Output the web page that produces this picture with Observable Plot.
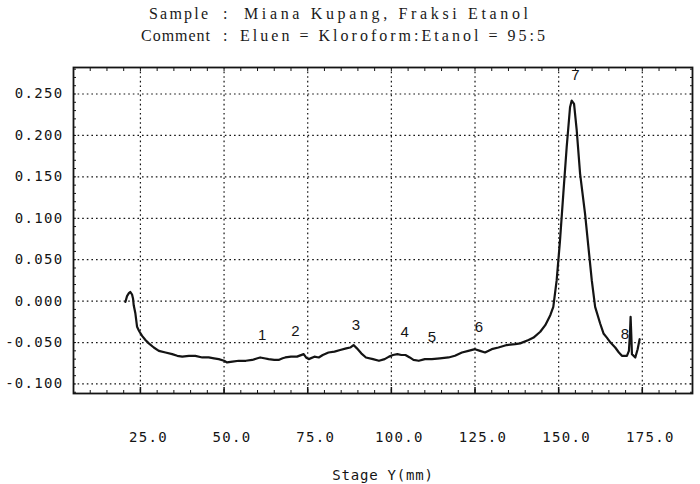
<!DOCTYPE html>
<html>
<head>
<meta charset="utf-8">
<script src="https://cdn.jsdelivr.net/npm/d3@7"></script>
<script src="https://cdn.jsdelivr.net/npm/@observablehq/plot@0.6"></script>
<style>
  html, body { margin: 0; padding: 0; background: #fff; }
  body { width: 700px; height: 484px; overflow: hidden; }
  #title { position: relative; height: 52px; width: 700px; font-family: "Liberation Serif", serif; font-size: 16px; color: #1a1a1a; }
  #title span { position: absolute; white-space: pre; line-height: 22px; }
  #chart svg { display: block; }
  #chart g[aria-label="x-axis tick label"] text,
  #chart g[aria-label="y-axis tick label"] text { letter-spacing: 1.3px; }
  #chart g[aria-label="x-axis label"] text { letter-spacing: 0.8px; }
</style>
</head>
<body>
<div id="title"></div>
<div id="chart"></div>
<script>
// ---- data ----
const titleLabels = ["Sample", "Comment"];
const titleValues = ["Miana Kupang, Fraksi Etanol", "Eluen = Kloroform:Etanol = 95:5"];

const stageY = [20.5, 21.0, 21.6, 22.0, 22.5, 22.8, 23.0, 23.5, 24.0, 24.6, 25.5, 26.5, 27.5, 29.0, 30.5, 32.5, 34.5, 36.0, 37.5, 39.5,
  41.4, 43.5, 45.4, 47.0, 48.4, 50.0, 50.9, 52.5, 54.4, 56.5, 58.4, 60.0, 60.8, 62.0, 63.3, 65.0, 66.3, 67.5, 68.3, 70.0,
  71.8, 73.8, 74.5, 75.3, 77.0, 78.3, 79.5, 81.2, 83.0, 84.7, 86.5, 87.7, 88.7, 89.7, 91.0, 92.4, 94.5, 96.3, 98.0, 99.3,
  100.5, 101.8, 103.0, 104.2, 105.5, 106.6, 108.2, 110.0, 112.1, 114.5, 117.1, 119.0, 121.1, 123.0, 125.0, 126.5, 128.0, 130.0, 132.0, 134.5,
  137.0, 138.5, 141.0, 142.5, 144.5, 146.0, 147.5, 148.4, 149.4, 150.4, 151.4, 152.4, 153.4, 153.9, 154.6, 155.4, 156.4, 157.9, 158.9, 159.9,
  160.9, 162.4, 163.4, 164.4, 165.5, 166.9, 168.0, 168.9, 170.4, 171.0, 171.3, 171.5, 171.7, 171.9, 172.9, 173.6, 174.2];
const signal = [-0.001, 0.006, 0.010, 0.011, 0.008, 0.003, -0.005, -0.015, -0.031, -0.036, -0.042, -0.047, -0.051, -0.056, -0.060, -0.062, -0.064, -0.066, -0.067, -0.066,
  -0.066, -0.068, -0.068, -0.069, -0.070, -0.072, -0.074, -0.073, -0.072, -0.072, -0.071, -0.069, -0.068, -0.069, -0.070, -0.071, -0.071, -0.069, -0.068, -0.067,
  -0.067, -0.064, -0.068, -0.070, -0.067, -0.068, -0.065, -0.062, -0.061, -0.059, -0.057, -0.056, -0.053, -0.057, -0.063, -0.068, -0.070, -0.072, -0.070, -0.067,
  -0.065, -0.064, -0.065, -0.065, -0.068, -0.071, -0.072, -0.070, -0.070, -0.069, -0.068, -0.066, -0.062, -0.060, -0.058, -0.060, -0.062, -0.058, -0.056, -0.053,
  -0.052, -0.051, -0.047, -0.044, -0.037, -0.029, -0.017, -0.007, 0.025, 0.073, 0.130, 0.186, 0.234, 0.242, 0.238, 0.206, 0.154, 0.105, 0.065, 0.025,
  -0.007, -0.027, -0.039, -0.044, -0.050, -0.056, -0.062, -0.066, -0.066, -0.060, -0.040, -0.019, -0.040, -0.064, -0.068, -0.058, -0.046];

const peakLabels = ["1", "2", "3", "4", "5", "6", "7", "8"];
const peakX = [61.4, 71.3, 89.4, 104.0, 112.1, 126.2, 155.0, 169.8];
const peakY = [-0.0415, -0.0362, -0.0294, -0.0375, -0.0435, -0.0314, 0.2730, -0.0394];

const xTicks = [25, 50, 75, 100, 125, 150, 175];
const yTicks = [-0.1, -0.05, 0, 0.05, 0.1, 0.15, 0.2, 0.25];
const xMinorTicks = d3.range(1, 38).map(i => i * 5);
const yMinorTicks = d3.range(-11, 29).map(i => i / 100);

// ---- title (fitted to the reference widths) ----
const title = document.getElementById("title");
function place(text, left, right, top) {
  const s = document.createElement("span");
  s.textContent = text;
  s.style.left = left + "px";
  s.style.top = top + "px";
  title.appendChild(s);
  const w = s.getBoundingClientRect().width;
  const ls = (right - left - w) / Math.max(1, text.length - 1);
  s.style.letterSpacing = ls + "px";
  return s;
}
const rowTop = [3, 25];
const labelBox = [[149, 208], [141, 210]];
const valueBox = [[244, 528], [240, 545]];
titleLabels.forEach((t, i) => {
  place(t, labelBox[i][0], labelBox[i][1], rowTop[i]);
  const c = document.createElement("span");
  c.textContent = ":";
  c.style.left = "223px";
  c.style.top = rowTop[i] + "px";
  title.appendChild(c);
  place(titleValues[i], valueBox[i][0], valueBox[i][1], rowTop[i]);
});

// ---- chart ----
const ink = "#141414";
const chart = Plot.plot({
  width: 700,
  height: 432,
  marginLeft: 73,
  marginRight: 8,
  marginTop: 15,
  marginBottom: 91,
  x: {domain: [5, 190]},
  y: {domain: [-0.1115, 0.282]},
  style: {fontFamily: "'DejaVu Sans Mono', monospace", fontSize: "14px", color: ink, background: "#fff", overflow: "visible"},
  marks: [
    Plot.gridX(xTicks, {stroke: ink, strokeOpacity: 1, strokeWidth: 1.2, strokeDasharray: "1.6,3"}),
    Plot.gridY(yTicks, {stroke: ink, strokeOpacity: 1, strokeWidth: 1.2, strokeDasharray: "1.6,3"}),
    // inward minor ticks on the frame
    Plot.axisX(xMinorTicks, {anchor: "bottom", tickSize: 3, dy: -3, tickFormat: () => "", label: null, stroke: ink}),
    Plot.axisX(xMinorTicks, {anchor: "top", tickSize: 3, dy: 3, tickFormat: () => "", label: null, stroke: ink}),
    Plot.axisX(xTicks, {anchor: "bottom", tickSize: 6, dy: -6, tickFormat: () => "", label: null, stroke: ink, strokeWidth: 1.5}),
    Plot.axisY(yMinorTicks, {anchor: "left", tickSize: 3, dx: 3, tickFormat: () => "", label: null, stroke: ink}),
    Plot.axisY(yMinorTicks, {anchor: "right", tickSize: 3, dx: -3, tickFormat: () => "", label: null, stroke: ink}),
    // labelled axes
    Plot.axisX(xTicks, {anchor: "bottom", tickSize: 0, tickPadding: 39, dx: 8, tickFormat: d => d.toFixed(1),
      label: "Stage Y(mm)", labelAnchor: "center", labelOffset: 86, labelArrow: "none", fontSize: 14}),
    Plot.axisY(yTicks, {anchor: "left", tickSize: 0, tickPadding: 10, tickFormat: d => d.toFixed(3), label: null, fontSize: 14}),
    Plot.frame({stroke: ink, strokeWidth: 1.8}),
    Plot.line(stageY, {x: stageY, y: signal, stroke: ink, strokeWidth: 2.2, strokeLinejoin: "round"}),
    Plot.text(peakLabels, {x: peakX, y: peakY, text: peakLabels, fontFamily: "'Liberation Sans', sans-serif", fontSize: 15, fill: ink})
  ]
});
document.getElementById("chart").appendChild(chart);
</script>
</body>
</html>
